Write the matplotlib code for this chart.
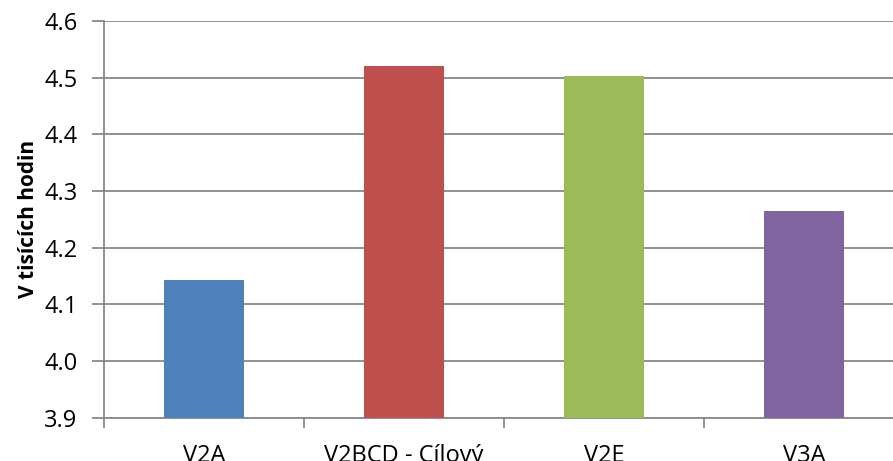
import matplotlib
matplotlib.use('Agg')
import matplotlib.pyplot as plt
import numpy as np

plt.rcParams['font.family'] = ['Open Sans', 'DejaVu Sans']

# Data
categories = ['V2A', 'V2BCD - Cílový', 'V2E', 'V3A']
values = [4.142, 4.521, 4.503, 4.265]
colors = ['#4F81BD', '#C0504D', '#9BBB59', '#8064A2']
yticks = [3.9, 4.0, 4.1, 4.2, 4.3, 4.4, 4.5, 4.6]

W, H = 893, 461
fig = plt.figure(figsize=(W / 100, H / 100), dpi=100)
# axes runs a bit beyond the right edge, like the original crop
ax = fig.add_axes([104 / W, (H - 417.5) / H, 800 / W, 396.5 / H])

x = np.arange(len(categories))
ax.bar(x, [v - 3.9 for v in values], bottom=3.9, width=0.4, color=colors, zorder=3)

ax.set_xlim(-0.5, len(categories) - 0.5)
ax.set_ylim(3.9, 4.6)
ax.set_yticks(yticks)
ax.set_yticklabels([f'{t:.1f}' for t in yticks], fontsize=17)
ax.set_xticks(x)
ax.set_xticklabels(categories, fontsize=17)
ax.set_xticks(np.arange(-0.5, len(categories), 1), minor=True)

ax.grid(axis='y', color='#888888', linewidth=1.3, zorder=0)
for s in ['top', 'right']:
    ax.spines[s].set_visible(False)
for s in ['left', 'bottom']:
    ax.spines[s].set_color('#888888')
    ax.spines[s].set_linewidth(1.3)

ax.tick_params(axis='y', length=9, width=1.3, color='#888888', direction='out', pad=10)
ax.tick_params(axis='x', which='major', length=0, pad=19)
ax.tick_params(axis='x', which='minor', length=7, width=1.3, color='#888888', direction='out')

ax.set_ylabel('V tisících hodin', fontsize=15, fontweight='bold', labelpad=4)

fig.savefig('out.png', dpi=100)
